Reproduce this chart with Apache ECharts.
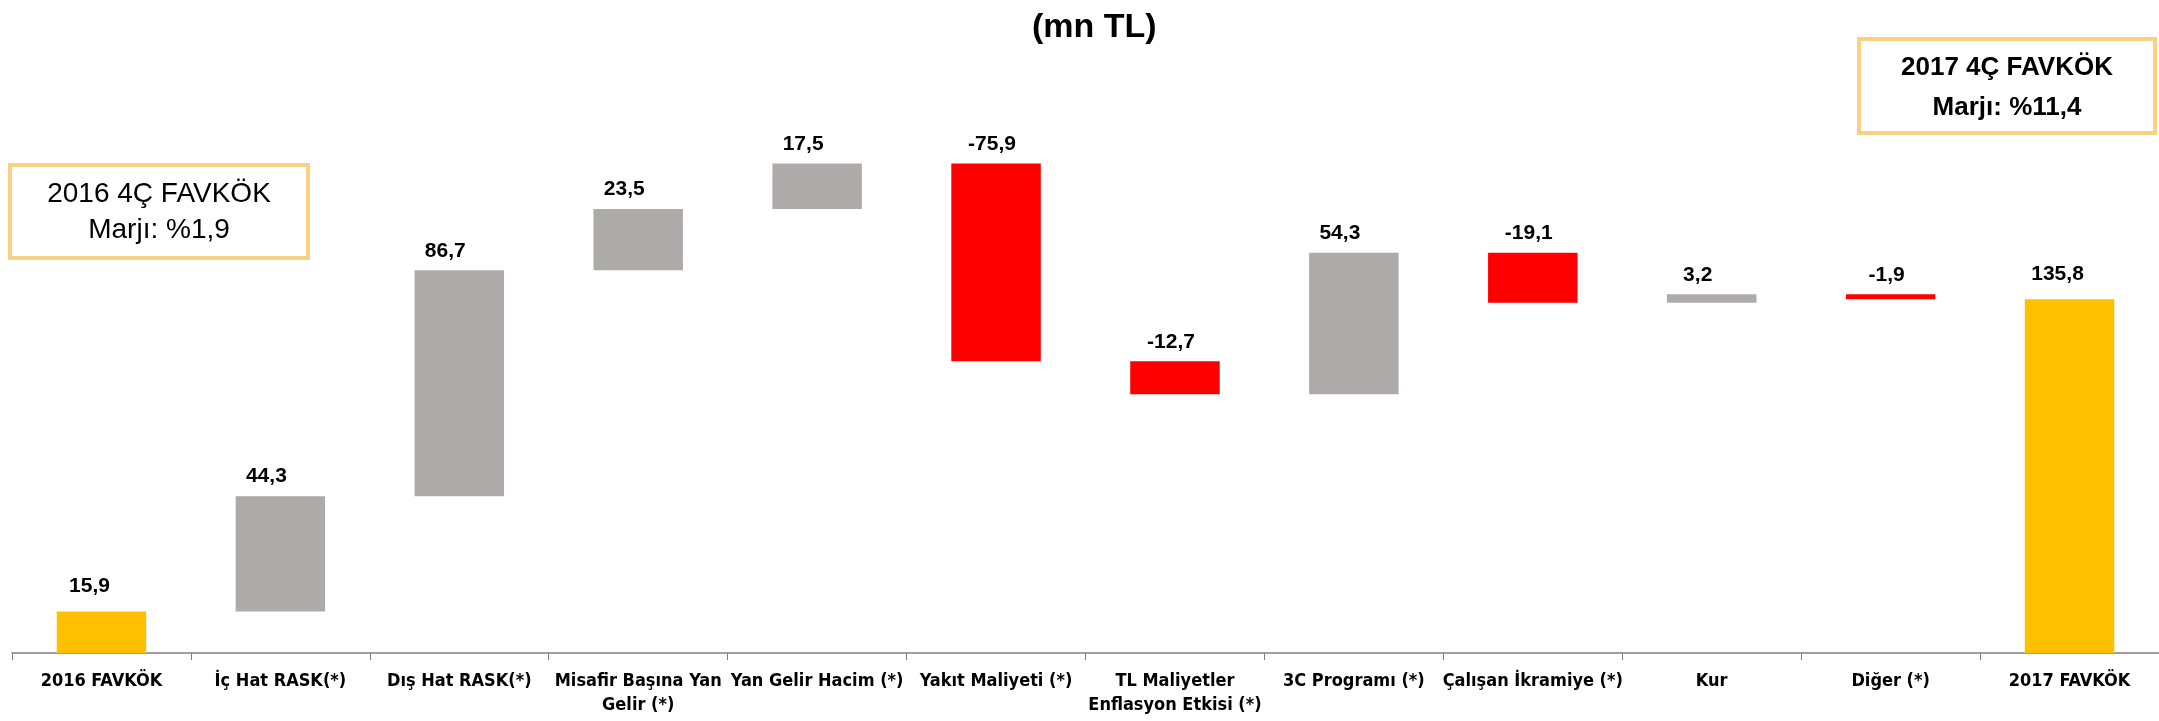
<!DOCTYPE html>
<html>
<head>
<meta charset="utf-8">
<script src="https://cdn.jsdelivr.net/npm/echarts@6/dist/echarts.min.js"></script>
<style>
html,body{margin:0;padding:0;background:#fff;}
#chart{width:2159px;height:721px;}
</style>
</head>
<body>
<div id="chart"></div>
<script>
const categories = ['2016 FAVKÖK', 'İç Hat RASK(*)', 'Dış Hat RASK(*)', 'Misafir Başına Yan\nGelir (*)', 'Yan Gelir Hacim (*)', 'Yakıt Maliyeti (*)', 'TL Maliyetler\nEnflasyon Etkisi (*)', '3C Programı (*)', 'Çalışan İkramiye (*)', 'Kur', 'Diğer (*)', '2017 FAVKÖK'];
const values = [15.9, 44.3, 86.7, 23.5, 17.5, -75.9, -12.7, 54.3, -19.1, 3.2, -1.9, 135.8];
const kinds = ['total', 'delta', 'delta', 'delta', 'delta', 'delta', 'delta', 'delta', 'delta', 'delta', 'delta', 'total'];
const titleText = '(mn TL)';
const box2016 = '2016 4Ç FAVKÖK\nMarjı: %1,9';
const box2017 = '2017 4Ç FAVKÖK\nMarjı: %11,4';

const GOLD = '#FFC000', GRAY = '#AEAAAA', RED = '#FF0000';
const FONT = "'Liberation Sans', Arial, sans-serif";
const NARROW = "'Liberation Sans Narrow', 'DejaVu Sans Condensed', sans-serif";

// build waterfall stacks
const baseData = [], barData = [];
let cum = 0;
values.forEach((v, i) => {
  let base, h, color;
  if (kinds[i] === 'total') { base = 0; h = v; cum = v; color = GOLD; }
  else if (v >= 0) { base = cum; h = v; cum = +(cum + v).toFixed(4); color = GRAY; }
  else { cum = +(cum + v).toFixed(4); base = cum; h = -v; color = RED; }
  baseData.push(+base.toFixed(4));
  let off;
  if (kinds[i] === 'total') off = [-12, -6];
  else off = v >= 0 ? [-14, 0] : [-4, 0];
  barData.push({
    value: +h.toFixed(4),
    itemStyle: { color: color },
    label: { offset: off }
  });
});

const chart = echarts.init(document.getElementById('chart'), null, { renderer: 'canvas' });
chart.setOption({
  animation: false,
  backgroundColor: '#fff',
  title: {
    text: titleText,
    left: 1027, top: 6,
    textStyle: { fontFamily: FONT, fontSize: 34, fontWeight: 'bold', color: '#000' }
  },
  grid: { left: 12, right: 0, top: 132, bottom: 68, containLabel: false },
  xAxis: {
    type: 'category',
    data: categories,
    axisLine: { lineStyle: { color: '#7F7F7F', width: 1.5 } },
    axisTick: { show: true, length: 7, lineStyle: { color: '#7F7F7F', width: 1 } },
    axisLabel: {
      interval: 0, margin: 16, lineHeight: 24,
      fontFamily: NARROW, fontSize: 18, fontWeight: 'bold', color: '#000'
    }
  },
  yAxis: { type: 'value', min: 0, max: 200, show: false, splitLine: { show: false } },
  series: [
    {
      type: 'bar', stack: 'w', data: baseData, barWidth: '50%',
      itemStyle: { color: 'transparent' }, silent: true
    },
    {
      type: 'bar', stack: 'w', data: barData, barWidth: '50%',
      label: {
        show: true, position: 'top', distance: 9,
        fontFamily: FONT, fontSize: 21, fontWeight: 'bold', color: '#000',
        formatter: p => values[p.dataIndex].toFixed(1).replace('.', ',')
      }
    }
  ],
  graphic: [
    {
      type: 'rect', shape: { x: 10, y: 165, width: 298, height: 93 },
      style: { fill: '#fff', stroke: '#F8D282', lineWidth: 4 }
    },
    {
      type: 'text',
      style: {
        text: box2016, x: 159, y: 212, textAlign: 'center', textVerticalAlign: 'middle',
        fontFamily: FONT, fontSize: 28, lineHeight: 36, fill: '#000'
      }
    },
    {
      type: 'rect', shape: { x: 1859, y: 39, width: 296, height: 94 },
      style: { fill: '#fff', stroke: '#F8D282', lineWidth: 4 }
    },
    {
      type: 'text',
      style: {
        text: box2017, x: 2007, y: 88, textAlign: 'center', textVerticalAlign: 'middle',
        fontFamily: FONT, fontSize: 26, fontWeight: 'bold', lineHeight: 40, fill: '#000'
      }
    }
  ]
});
</script>
</body>
</html>
